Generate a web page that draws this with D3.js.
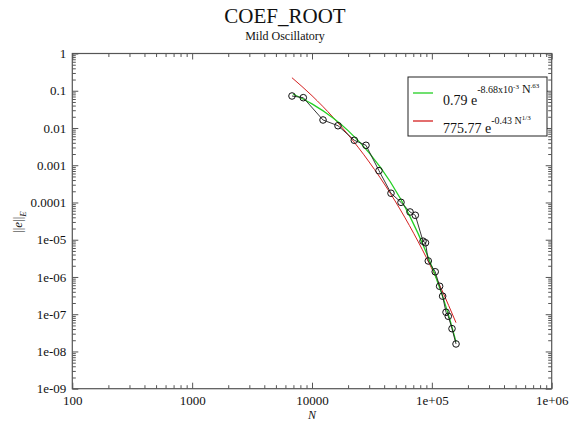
<!DOCTYPE html>
<html>
<head>
<meta charset="utf-8">
<script src="https://cdn.jsdelivr.net/npm/d3@7"></script>
<style>
  body { margin: 0; background: #fff; }
  text { font-family: "Liberation Serif", "DejaVu Serif", serif; fill: #111; }
</style>
</head>
<body>
<div id="chart"></div>
<script>
const width = 575,
    height = 423,
    margin = ({ top: 53.5, right: 23.3, bottom: 34.3, left: 72.3 });

const dataN = [6810, 8460, 12360, 16480, 22540, 28220, 36220, 45610, 55270, 65760, 72780,
  84400, 88500, 93360, 106650, 116100, 123000, 131300, 137100, 147300, 159100];
const dataErr = [0.0723, 0.0651, 0.0164, 0.0115, 0.00468, 0.00343, 0.000714, 0.000177, 0.000101,
  5.56e-5, 4.53e-5, 9.14e-6, 8.28e-6, 2.69e-6, 1.38e-6, 5.63e-7, 3.05e-7, 1.13e-7, 8.81e-8, 4.09e-8, 1.59e-8];

// green fit
const greenN = [6940, 10000, 15000, 20000, 30000, 45000, 65000, 90000, 120000, 140000, 159100];
const greenErr = [0.0818, 0.0443, 0.0185, 0.0085, 0.00215, 3.6e-4, 4.5e-5, 4.5e-6, 3.8e-7, 8e-8, 1.8e-8];

// red fit
const redN = [6800, 10000, 15000, 20000, 30000, 45000, 65000, 90000, 120000, 159000];
const redErr = [0.224, 0.0736, 0.0193, 0.00663, 0.00122, 1.77e-4, 2.4e-5, 3.31e-6, 4.78e-7, 5.93e-8];

const xTicks = [100, 1000, 10000, 1e5, 1e6];
const xTickLabels = ["100", "1000", "10000", "1e+05", "1e+06"];
const yTicks = [1, 0.1, 0.01, 0.001, 0.0001, 1e-5, 1e-6, 1e-7, 1e-8, 1e-9];
const yTickLabels = ["1", "0.1", "0.01", "0.001", "0.0001", "1e-05", "1e-06", "1e-07", "1e-08", "1e-09"];

const svg = d3.select("#chart")
    .append("svg")
    .attr("width", width)
    .attr("height", height);

let x = d3.scaleLog()
    .domain([100, 1e6])
    .range([margin.left, width - margin.right]);

let y = d3.scaleLog()
    .domain([1e-9, 1])
    .range([height - margin.bottom, margin.top]);

// minor ticks: 2..9 in every decade
let xMinor = [], yMinor = [];
for (let e = 2; e < 6; e++) for (let k = 2; k < 10; k++) xMinor.push(k * Math.pow(10, e));
for (let e = -9; e < 0; e++) for (let k = 2; k < 10; k++) yMinor.push(k * Math.pow(10, e));

const axisColor = "#555";

function styleAxis(g) {
  g.select(".domain").remove();
  g.selectAll(".tick line").attr("stroke", axisColor);
  g.selectAll(".tick text").attr("font-size", 13).attr("fill", "#111")
    .attr("font-family", "Liberation Serif, serif");
}

// bottom
svg.append("g")
  .attr("transform", `translate(0,${height - margin.bottom})`)
  .call(d3.axisBottom(x).tickValues(xTicks).tickSize(-6).tickPadding(7)
    .tickFormat((d, i) => xTickLabels[i]))
  .call(styleAxis);
svg.append("g")
  .attr("transform", `translate(0,${height - margin.bottom})`)
  .call(d3.axisBottom(x).tickValues(xMinor).tickSize(-3.5).tickFormat(""))
  .call(styleAxis);
// top
svg.append("g")
  .attr("transform", `translate(0,${margin.top})`)
  .call(d3.axisTop(x).tickValues(xTicks).tickSize(-6).tickFormat(""))
  .call(styleAxis);
svg.append("g")
  .attr("transform", `translate(0,${margin.top})`)
  .call(d3.axisTop(x).tickValues(xMinor).tickSize(-3.5).tickFormat(""))
  .call(styleAxis);
// left
svg.append("g")
  .attr("transform", `translate(${margin.left},0)`)
  .call(d3.axisLeft(y).tickValues(yTicks).tickSize(-6).tickPadding(6)
    .tickFormat((d, i) => yTickLabels[i]))
  .call(styleAxis);
svg.append("g")
  .attr("transform", `translate(${margin.left},0)`)
  .call(d3.axisLeft(y).tickValues(yMinor).tickSize(-3.5).tickFormat(""))
  .call(styleAxis);
// right
svg.append("g")
  .attr("transform", `translate(${width - margin.right},0)`)
  .call(d3.axisRight(y).tickValues(yTicks).tickSize(-6).tickFormat(""))
  .call(styleAxis);
svg.append("g")
  .attr("transform", `translate(${width - margin.right},0)`)
  .call(d3.axisRight(y).tickValues(yMinor).tickSize(-3.5).tickFormat(""))
  .call(styleAxis);

// frame
svg.append("rect")
  .attr("x", margin.left)
  .attr("y", margin.top)
  .attr("width", width - margin.left - margin.right)
  .attr("height", height - margin.top - margin.bottom)
  .attr("fill", "none")
  .attr("stroke", axisColor)
  .attr("stroke-width", 1.2);

let line = d3.line()
    .x(d => x(d[0]))
    .y(d => y(d[1]));

let smooth = d3.line()
    .x(d => x(d[0]))
    .y(d => y(d[1]))
    .curve(d3.curveMonotoneX);

const pts = d3.zip(dataN, dataErr);

svg.append("path")
  .datum(d3.zip(redN, redErr))
  .attr("d", smooth)
  .attr("fill", "none")
  .attr("stroke", "#d42020")
  .attr("stroke-width", 1);

svg.append("path")
  .datum(d3.zip(greenN, greenErr))
  .attr("d", smooth)
  .attr("fill", "none")
  .attr("stroke", "#22d022")
  .attr("stroke-width", 1.3);

svg.append("path")
  .datum(pts)
  .attr("d", line)
  .attr("fill", "none")
  .attr("stroke", "#222")
  .attr("stroke-width", 0.9);

svg.selectAll("circle.pt")
  .data(pts)
  .join("circle")
  .attr("class", "pt")
  .attr("cx", d => x(d[0]))
  .attr("cy", d => y(d[1]))
  .attr("r", 3.3)
  .attr("fill", "none")
  .attr("stroke", "#111")
  .attr("stroke-width", 1);

// titles
svg.append("text")
  .attr("x", 285).attr("y", 23)
  .attr("text-anchor", "middle")
  .attr("font-size", 21)
  .text("COEF_ROOT");
svg.append("text")
  .attr("x", 285).attr("y", 40)
  .attr("text-anchor", "middle")
  .attr("font-size", 12)
  .text("Mild Oscillatory");

svg.append("text")
  .attr("x", 312).attr("y", 419)
  .attr("text-anchor", "middle")
  .attr("font-size", 12)
  .attr("font-style", "italic")
  .text("N");

let yl = svg.append("text")
  .attr("transform", "translate(22,222) rotate(-90)")
  .attr("text-anchor", "middle")
  .attr("font-size", 13);
yl.append("tspan").text("||");
yl.append("tspan").attr("font-style", "italic").text("e");
yl.append("tspan").text("||");
yl.append("tspan").attr("font-style", "italic").attr("font-size", 9).attr("dy", 4).text("E");

// legend
const lg = svg.append("g");
lg.append("rect")
  .attr("x", 408).attr("y", 77)
  .attr("width", 139).attr("height", 59)
  .attr("fill", "#fff")
  .attr("stroke", "#222")
  .attr("stroke-width", 1);
lg.append("line").attr("x1", 413).attr("x2", 433).attr("y1", 93).attr("y2", 93)
  .attr("stroke", "#22d022").attr("stroke-width", 1.3);
lg.append("line").attr("x1", 413).attr("x2", 433).attr("y1", 121).attr("y2", 121)
  .attr("stroke", "#d42020").attr("stroke-width", 1.3);

let t1 = lg.append("text").attr("x", 443).attr("y", 105).attr("font-size", 14);
t1.append("tspan").text("0.79 e");
t1.append("tspan").attr("font-size", 10).attr("dy", -12).text("-8.68x10");
t1.append("tspan").attr("font-size", 7).attr("dy", -4).text("-3");
t1.append("tspan").attr("font-size", 12).attr("dy", 4).text(" N");
t1.append("tspan").attr("font-size", 7).attr("dy", -5).text(".63");

let t2 = lg.append("text").attr("x", 443).attr("y", 133).attr("font-size", 14);
t2.append("tspan").text("775.77 e");
t2.append("tspan").attr("font-size", 10).attr("dy", -9).text("-0.43 N");
t2.append("tspan").attr("font-size", 7).attr("dy", -4).text("1/3");
</script>
</body>
</html>
